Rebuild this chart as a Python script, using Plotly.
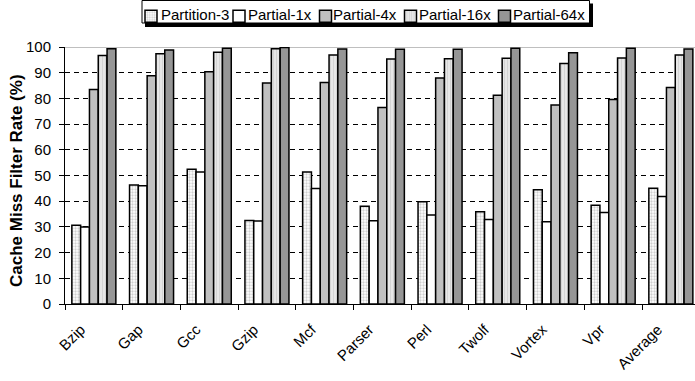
import plotly.graph_objects as go

# Benchmarks on the x axis
categories = ["Bzip", "Gap", "Gcc", "Gzip", "Mcf", "Parser", "Perl",
              "Twolf", "Vortex", "Vpr", "Average"]

# Cache miss filter rate (%) per configuration
partition_3 = [30.6, 46.3, 52.4, 32.5, 51.4, 38.0, 39.8, 35.9, 44.5, 38.4, 45.0]
partial_1x = [30.0, 46.0, 51.4, 32.3, 44.9, 32.4, 34.6, 32.9, 32.0, 35.6, 41.8]
partial_4x = [83.5, 88.8, 90.4, 86.0, 86.2, 76.5, 87.9, 81.2, 77.4, 79.6, 84.2]
partial_16x = [96.7, 97.4, 98.0, 99.3, 96.9, 95.3, 95.4, 95.6, 93.6, 95.7, 96.9]
partial_64x = [99.3, 98.8, 99.5, 99.8, 99.2, 99.1, 99.1, 99.5, 97.8, 99.5, 99.2]

series_names = ["Partition-3", "Partial-1x", "Partial-4x", "Partial-16x", "Partial-64x"]
series_values = [partition_3, partial_1x, partial_4x, partial_16x, partial_64x]

y_ticks = list(range(0, 101, 10))
y_title = "Cache Miss Filter Rate (%)"

FONT = "Liberation Sans, Arial, sans-serif"

# fill styles: dotted, white, light gray, vertical stripes, dark gray
fills = [
    dict(color="white", pattern=dict(shape=".", fgcolor="#a0a0a0", bgcolor="white",
                                     size=3, solidity=0.45)),
    dict(color="white"),
    dict(color="#C0C0C0"),
    dict(color="white", pattern=dict(shape="|", fgcolor="#b4b4b4", bgcolor="#f4f4f4",
                                     size=3, solidity=0.6)),
    dict(color="#969696"),
]

# pixel geometry of the figure
W, H = 695, 381
ML, MT, MB = 65, 47, 77
plot_w = W - ML
plot_h = H - MT - MB


def px_x(p):
    return (p - ML) / plot_w


def px_y(p):
    return (H - MB - p) / plot_h


# legend item spacing (px) and label start positions
legend_widths = [43, 41.5, 40, 49, 40]
label_x = [160, 247, 332, 418, 512]

fig = go.Figure()
for name, vals, fill, lw in zip(series_names, series_values, fills, legend_widths):
    marker = dict(fill)
    marker["line"] = dict(color="black", width=1.5)
    fig.add_trace(go.Bar(
        x=categories, y=vals, name="", marker=marker,
        legendwidth=lw, hovertemplate=name + ": %{y}<extra></extra>",
    ))

cat_w = 57.7
fig.update_layout(
    width=W, height=H,
    margin=dict(l=ML, r=0, t=MT, b=MB, autoexpand=False),
    paper_bgcolor="white", plot_bgcolor="white",
    barmode="group", bargap=0.237, bargroupgap=0,
    font=dict(family=FONT, size=15, color="black"),
    showlegend=True,
    legend=dict(orientation="h", x=px_x(131), xanchor="left",
                y=px_y(0), yanchor="top", bgcolor="rgba(0,0,0,0)",
                borderwidth=0, font=dict(size=15)),
    xaxis=dict(type="category", range=[-0.5, -0.5 + plot_w / cat_w],
               tickson="boundaries", ticks="outside", ticklen=5, tickcolor="black",
               showline=True, linecolor="black", linewidth=1, showgrid=False,
               tickangle=-45, tickfont=dict(size=15),
               ticklabelshift=-13, ticklabelstandoff=10),
    yaxis=dict(range=[0, 100], tickvals=y_ticks, ticks="outside", ticklen=5,
               tickcolor="black", showline=True, linecolor="black", linewidth=1,
               showgrid=True, gridcolor="black", gridwidth=1, griddash="5px,4px",
               zeroline=False, tickfont=dict(size=15), ticklabelstandoff=5),
)

# y axis title, rotated
fig.add_annotation(text="<b>" + y_title + "</b>", xref="paper", yref="paper",
                   x=px_x(17), y=px_y(181), xanchor="center", yanchor="middle",
                   textangle=-90, showarrow=False, font=dict(size=17, color="black"))

# top border of the plot area
fig.add_shape(type="line", xref="paper", yref="y", x0=0, x1=1, y0=100, y1=100,
              line=dict(color="#808080", width=1), layer="below")

# legend frame with drop shadow
fig.add_shape(type="rect", xref="paper", yref="paper",
              x0=px_x(145), x1=px_x(593), y0=px_y(27), y1=px_y(3.5),
              fillcolor="black", line=dict(width=0), layer="above")
fig.add_shape(type="rect", xref="paper", yref="paper",
              x0=px_x(142), x1=px_x(589.5), y0=px_y(23), y1=px_y(0.5),
              fillcolor="white", line=dict(color="black", width=1), layer="above")

for name, lx in zip(series_names, label_x):
    fig.add_annotation(text=name, xref="paper", yref="paper",
                       x=px_x(lx - 1), xanchor="left", y=px_y(14.3), yanchor="middle",
                       showarrow=False, font=dict(size=15, color="black"))

fig.write_html("out.html")
